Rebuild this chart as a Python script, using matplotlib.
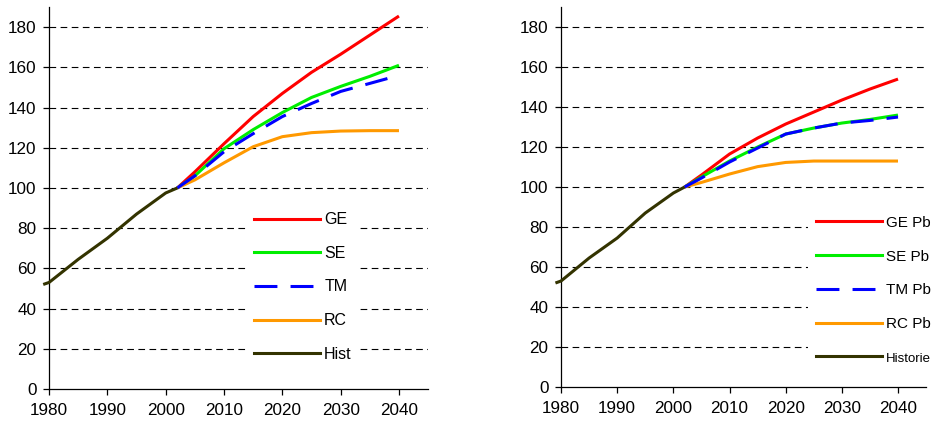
import matplotlib
matplotlib.use("Agg")
import matplotlib.pyplot as plt
from matplotlib.lines import Line2D

plt.rcParams['font.family'] = ['Liberation Sans', 'DejaVu Sans']

# Historical index (2002 = 100)
hist_years = [1979, 1980, 1985, 1990, 1995, 2000, 2002]
hist_left = [52, 53, 64.5, 75, 87, 97.5, 100]
hist_right = [52, 53, 64.5, 74.5, 87, 97, 100]

# Projection years
proj_years = [2002, 2005, 2010, 2015, 2020, 2025, 2030, 2035, 2040]

# Scenarios, left panel
ge = [100, 108, 122, 135.5, 147, 157.5, 166.5, 176, 185.5]
se = [100, 106, 119.5, 129, 137.5, 145, 150.5, 155.5, 161]
tm = [100, 106, 118, 127, 135.5, 142, 148, 152, 156]
rc = [100, 104, 112.5, 120.5, 125.5, 127.5, 128.3, 128.5, 128.5]

# Scenarios, right panel (Pb)
ge_pb = [100, 106, 116.5, 124.5, 131.5, 137.5, 143.5, 149, 154]
se_pb = [100, 105, 113, 120, 126.5, 129.5, 132, 133.8, 136]
tm_pb = [100, 104.5, 112.5, 119.5, 126.5, 129.5, 132, 133.3, 135]
rc_pb = [100, 102.3, 106.5, 110.2, 112.3, 113, 113, 113, 113]

labels_left = ["GE", "SE", "TM", "RC", "Hist"]
labels_right = ["GE Pb", "SE Pb", "TM Pb", "RC Pb", "Historie"]

x_ticks = [1980, 1990, 2000, 2010, 2020, 2030, 2040]
y_ticks = [0, 20, 40, 60, 80, 100, 120, 140, 160, 180]

C_GE = "#ff0000"
C_SE = "#00ee00"
C_TM = "#0000ff"
C_RC = "#ff9900"
C_HIST = "#333300"
LW = 2.2
TM_DASH = (7.5, 4.3)

fig = plt.figure(figsize=(9.36, 4.24), dpi=100)
ax1 = fig.add_axes([0.0524, 0.0825, 0.405, 0.901])
ax2 = fig.add_axes([0.5994, 0.0873, 0.390, 0.896])


def draw_panel(ax, hist, g, s, t, r, labels, legend_anchor, fs, spacing, small_last):
    for y in y_ticks[1:]:
        ax.axhline(y, color="black", lw=0.8, dashes=(6, 4), zorder=1)
    h_ge, = ax.plot(proj_years, g, color=C_GE, lw=LW, zorder=3)
    h_se, = ax.plot(proj_years, s, color=C_SE, lw=LW, zorder=3)
    h_tm, = ax.plot(proj_years, t, color=C_TM, lw=LW, dashes=TM_DASH, zorder=4)
    h_rc, = ax.plot(proj_years, r, color=C_RC, lw=LW, zorder=3)
    h_hi, = ax.plot(hist_years, hist, color=C_HIST, lw=LW, zorder=4, clip_on=False)
    for h in (h_ge, h_se, h_tm, h_rc, h_hi):
        h.set_solid_capstyle("butt")

    ax.set_xlim(1980, 2045)
    ax.set_ylim(0, 190)
    ax.set_xticks(x_ticks)
    ax.set_yticks(y_ticks)
    ax.tick_params(axis="both", labelsize=12.3, length=4, width=0.9,
                   direction="out", color="black")
    ax.tick_params(axis="x", pad=6)
    ax.tick_params(axis="y", pad=5)
    for side in ("top", "right"):
        ax.spines[side].set_visible(False)
    for side in ("left", "bottom"):
        ax.spines[side].set_linewidth(0.9)

    handles = [
        Line2D([], [], color=C_GE, lw=LW),
        Line2D([], [], color=C_SE, lw=LW),
        Line2D([], [], color=C_TM, lw=LW, dashes=TM_DASH),
        Line2D([], [], color=C_RC, lw=LW),
        Line2D([], [], color=C_HIST, lw=LW),
    ]
    leg = ax.legend(handles, labels, loc="upper left", bbox_to_anchor=legend_anchor,
                    fontsize=fs, frameon=True, facecolor="white", edgecolor="none",
                    framealpha=1.0, fancybox=False, handlelength=66 / (fs * 100 / 72),
                    handletextpad=0.25, labelspacing=spacing, borderpad=0.5,
                    borderaxespad=0)
    leg.set_zorder(5)
    leg.set_clip_on(False)
    if small_last:
        leg.get_texts()[-1].set_fontsize(9.5)


draw_panel(ax1, hist_left, ge, se, tm, rc, labels_left, (0.52, 0.484), 11.5, 1.17, False)
draw_panel(ax2, hist_right, ge_pb, se_pb, tm_pb, rc_pb, labels_right, (0.677, 0.471), 11, 1.3, True)

fig.savefig("out.png", dpi=100)
